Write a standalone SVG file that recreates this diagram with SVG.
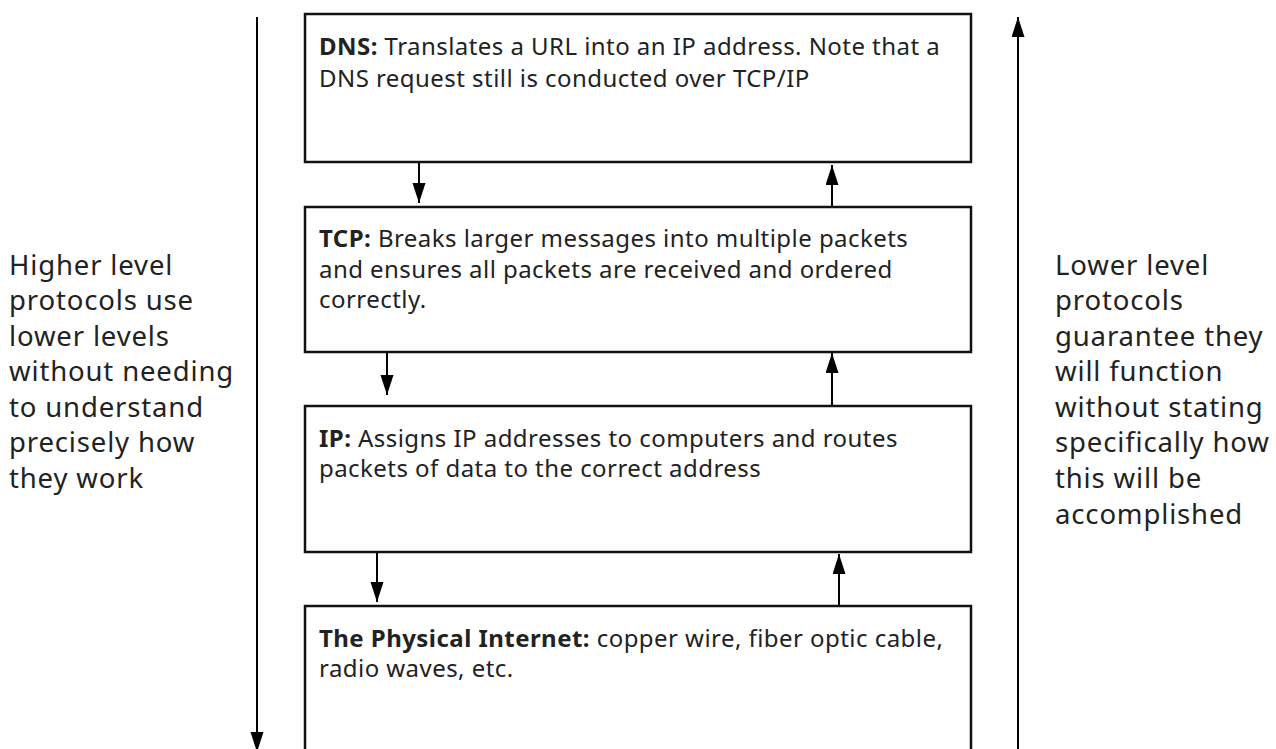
<svg xmlns="http://www.w3.org/2000/svg" width="1276" height="749" viewBox="0 0 1276 749">
<defs>
<marker id="ah" markerUnits="userSpaceOnUse" markerWidth="21" markerHeight="14" refX="20" refY="6.5" orient="auto">
<path d="M0,0 L20,6.5 L0,13 z" fill="#000"/>
</marker>
<style>
.box{fill:#fff;stroke:#111;stroke-width:2.5}
.bt{font-family:"Noto Sans","Open Sans",sans-serif;font-size:24px;letter-spacing:0.45px;fill:#222}
.bt .b{font-weight:bold}
.st{font-family:"Noto Sans","Open Sans",sans-serif;font-size:27.5px;letter-spacing:0.85px;fill:#222}
.con line{stroke:#000;stroke-width:2;marker-end:url(#ah)}
</style>
</defs>
<rect width="1276" height="749" fill="#fff"/>
<g id="dns">
<rect class="box" x="305" y="14" width="666" height="148"/>
<text class="bt" x="319" y="55"><tspan class="b">DNS:</tspan> Translates a URL into an IP address. Note that a</text>
<text class="bt" x="319" y="87">DNS request still is conducted over TCP/IP</text>
</g>
<g id="tcp">
<rect class="box" x="305" y="207" width="666" height="145"/>
<text class="bt" x="319" y="247"><tspan class="b">TCP:</tspan> Breaks larger messages into multiple packets</text>
<text class="bt" x="319" y="278">and ensures all packets are received and ordered</text>
<text class="bt" x="319" y="308">correctly.</text>
</g>
<g id="ip">
<rect class="box" x="305" y="406" width="666" height="146"/>
<text class="bt" x="319" y="447"><tspan class="b">IP:</tspan> Assigns IP addresses to computers and routes</text>
<text class="bt" x="319" y="477">packets of data to the correct address</text>
</g>
<g id="physical">
<rect class="box" x="305" y="606" width="666" height="160"/>
<text class="bt" x="319" y="647"><tspan class="b">The Physical Internet:</tspan> copper wire, fiber optic cable,</text>
<text class="bt" x="319" y="677">radio waves, etc.</text>
</g>
<g id="left-note">
<text class="st" x="9" y="275">Higher level</text>
<text class="st" x="9" y="310">protocols use</text>
<text class="st" x="9" y="346">lower levels</text>
<text class="st" x="9" y="381">without needing</text>
<text class="st" x="9" y="417">to understand</text>
<text class="st" x="9" y="452">precisely how</text>
<text class="st" x="9" y="488">they work</text>
</g>
<g id="right-note">
<text class="st" x="1055" y="275">Lower level</text>
<text class="st" x="1055" y="310">protocols</text>
<text class="st" x="1055" y="346">guarantee they</text>
<text class="st" x="1055" y="381">will function</text>
<text class="st" x="1055" y="417">without stating</text>
<text class="st" x="1055" y="452">specifically how</text>
<text class="st" x="1055" y="488">this will be</text>
<text class="st" x="1055" y="524">accomplished</text>
</g>
<g id="connectors" class="con">
<line x1="257" y1="17" x2="257" y2="752"/>
<line x1="1018" y1="760" x2="1018" y2="17"/>
<line x1="419" y1="163" x2="419" y2="203"/>
<line x1="832" y1="206" x2="832" y2="165"/>
<line x1="387" y1="353" x2="387" y2="395"/>
<line x1="832" y1="405" x2="832" y2="353"/>
<line x1="377" y1="553" x2="377" y2="602"/>
<line x1="839" y1="605" x2="839" y2="554"/>
</g>
</svg>
